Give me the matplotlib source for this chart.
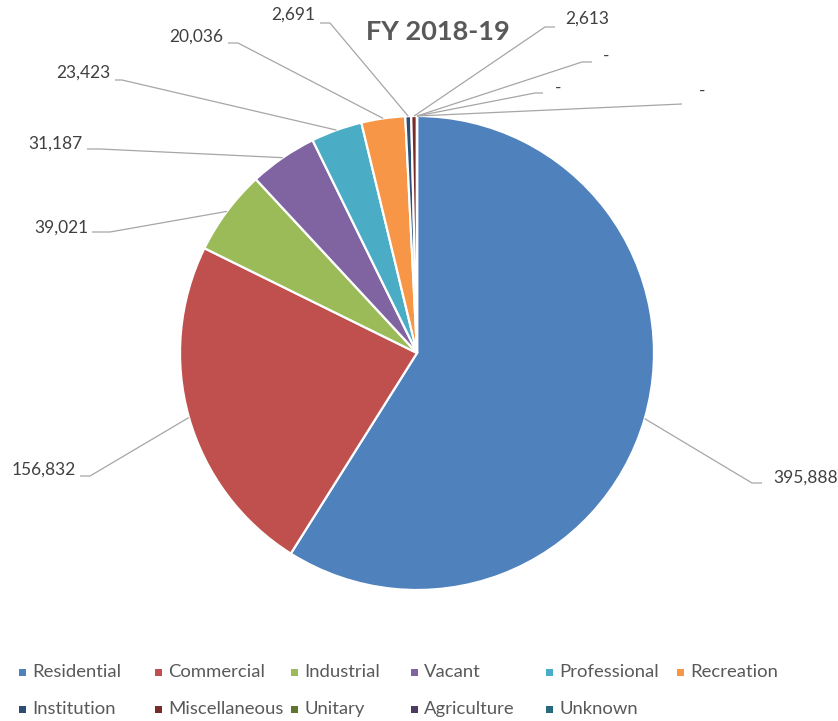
import matplotlib
matplotlib.use("Agg")
import matplotlib.pyplot as plt
import numpy as np

W, H = 838, 721

# ---- data ----
categories = ["Residential", "Commercial", "Industrial", "Vacant", "Professional",
              "Recreation", "Institution", "Miscellaneous", "Unitary", "Agriculture", "Unknown"]
values = [395888, 156832, 39021, 31187, 23423, 20036, 2691, 2613, 0, 0, 0]
colors = ["#4F81BD", "#C0504D", "#9BBB59", "#8064A2", "#4BACC6", "#F79646",
          "#2C4D75", "#772C2A", "#5F7530", "#4D3B62", "#276A7C"]
title = "FY 2018-19"

# ---- layout (pixel coordinates, y downward) ----
center_px = (417, 353)
radius_px = 237
# text position, ha, elbow point, line end near text
label_layout = [
    ((773, 478), "left", (752, 483), (762, 483)),
    ((76, 470), "right", (90, 476), (80, 476)),
    ((88, 228), "right", (110, 232), (92, 232)),
    ((83, 144), "right", (100, 149), (87, 149)),
    ((110, 73), "right", (122, 80), (115, 80)),
    ((223, 37), "right", (238, 43), (228, 43)),
    ((315, 15), "right", (330, 23), (320, 23)),
    ((565, 19), "left", (545, 27), (555, 27)),
    ((603, 56), "left", (582, 62), (592, 62)),
    ((555, 88), "left", (535, 93), (543, 93)),
    ((699, 91), "left", (682, 104), (682, 104)),
]
legend_cols_x = [22, 158, 294, 414, 549, 680]
legend_rows_y = [672, 709]


def P(x, y):
    return (x, H - y)


fig = plt.figure(figsize=(W / 100, H / 100), dpi=100)
ax = fig.add_axes([0, 0, 1, 1])
ax.set_xlim(0, W)
ax.set_ylim(0, H)
ax.set_aspect("equal")
ax.axis("off")

cx, cy = P(*center_px)
wedges, _ = ax.pie(values, colors=colors, startangle=90, counterclock=False,
                   center=(cx, cy), radius=radius_px, normalize=True,
                   wedgeprops=dict(edgecolor="white", linewidth=1.6))
ax.set_xlim(0, W)
ax.set_ylim(0, H)

line_color = "#A6A6A6"
text_color = "#404040"
for w, v, (txy, ha, elbow, end) in zip(wedges, values, label_layout):
    mid = np.deg2rad((w.theta1 + w.theta2) / 2)
    ax_, ay_ = cx + radius_px * np.cos(mid), cy + radius_px * np.sin(mid)
    ex, ey = P(*elbow)
    nx, ny = P(*end)
    ax.plot([ax_, ex, nx], [ay_, ey, ny], color=line_color, lw=0.9,
            solid_capstyle="butt", zorder=1)
    s = f"{v:,}" if v else "-"
    tx, ty = P(*txy)
    ax.text(tx, ty, s, ha=ha, va="center", fontsize=12.5, family="Lato",
            color=text_color)

tx, ty = P(438, 32)
ax.text(tx, ty, title, ha="center", va="center", fontsize=19.5, family="Lato",
        fontweight="bold", color="#595959")

# legend
for i, (cat, col) in enumerate(zip(categories, colors)):
    r, c = divmod(i, 6)
    x = legend_cols_x[c]
    y = legend_rows_y[r]
    mx, my = P(x, y)
    ax.add_patch(plt.Rectangle((mx - 3.5, my - 3.5), 7, 7, color=col, lw=0))
    ax.text(mx + 10, my, cat, ha="left", va="center", fontsize=13.3,
            family="Lato", color="#595959")

fig.savefig("out.png", dpi=100)
